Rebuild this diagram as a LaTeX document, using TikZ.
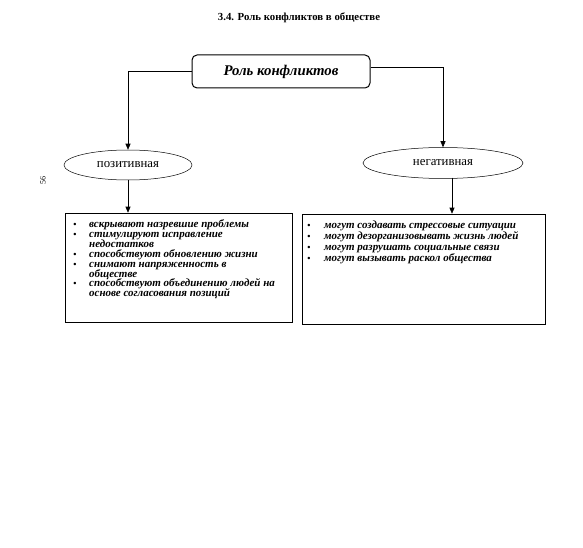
\documentclass[tikz,border=0pt]{standalone}
\usepackage{fontspec}
\setmainfont{Liberation Serif}
\usetikzlibrary{shapes.geometric,arrows.meta}
\tikzset{
  mainbox/.style={draw, line width=1pt, rounded corners=5pt, minimum width=178pt, minimum height=33pt, inner sep=0pt, font=\fontsize{14.8}{16}\selectfont\bfseries\itshape},
  kind/.style={draw, ellipse, line width=0.5pt, inner sep=0pt, font=\fontsize{12.8}{14}\selectfont},
  listbox/.style={draw, line width=0.6pt, inner sep=0pt},
  bul/.style={anchor=base, inner sep=0pt, font=\fontsize{9}{10}\selectfont\bfseries},
  itm/.style={anchor=base west, inner sep=0pt, font=\fontsize{11}{12}\selectfont\bfseries\itshape},
  conn/.style={line width=0.6pt, -{Triangle[length=6pt,width=5pt]}}
}
\begin{document}
\begin{tikzpicture}[x=1pt,y=-1pt]
\useasboundingbox[fill=white] (0,0) rectangle (583,548);
\node[font=\fontsize{10.8}{12}\selectfont\bfseries] (title) at (299,18) {3.4. Роль конфликтов в обществе};
\node[mainbox] (main) at (281,71.5) {Роль конфликтов};
\node[kind, minimum width=128pt, minimum height=30pt] (pos) at (128,165) {позитивная};
\node[kind, minimum width=160pt, minimum height=31pt] (neg) at (443,163) {негативная};
\node[listbox, minimum width=227pt, minimum height=109pt] (lbox) at (178.5,267.5) {};
\node[listbox, minimum width=243pt, minimum height=110pt] (rbox) at (423.5,269) {};
\node[rotate=90, inner sep=0pt, font=\fontsize{8}{9}\selectfont] (pg) at (43,180) {56};
\draw[conn] (main.west) -| (pos.north);
\draw[conn] ([yshift=4pt]main.east) -| (neg.north);
\coordinate (pb) at (pos.south);
\draw[conn] (pb) -- (pb |- lbox.north);
\coordinate (nb) at ([xshift=9pt,yshift=1pt]neg.south);
\draw[conn] (nb) -- (nb |- rbox.north);
% left list
\node[bul] (lb1) at (75,227.5) {•};
\node[itm] (l1) at (89,227.5) {вскрывают назревшие проблемы};
\node[bul] (lb2) at (75,237.4) {•};
\node[itm] (l2) at (89,237.4) {стимулируют исправление};
\node[itm] (l2b) at (89,247.3) {недостатков};
\node[bul] (lb3) at (75,257.2) {•};
\node[itm] (l3) at (89,257.2) {способствуют обновлению жизни};
\node[bul] (lb4) at (75,267.1) {•};
\node[itm] (l4) at (89,267.1) {снимают напряженность в};
\node[itm] (l4b) at (89,277.0) {обществе};
\node[bul] (lb5) at (75,286.9) {•};
\node[itm] (l5) at (89,286.9) {способствуют объединению людей на};
\node[itm] (l5b) at (89,296.8) {основе согласования позиций};
% right list
\node[bul] (rb1) at (309,228) {•};
\node[itm] (r1) at (324,228) {могут создавать стрессовые ситуации};
\node[bul] (rb2) at (309,239) {•};
\node[itm] (r2) at (324,239) {могут дезорганизовывать жизнь людей};
\node[bul] (rb3) at (309,250) {•};
\node[itm] (r3) at (324,250) {могут разрушать социальные связи};
\node[bul] (rb4) at (309,261) {•};
\node[itm] (r4) at (324,261) {могут вызывать раскол общества};
\end{tikzpicture}
\end{document}
